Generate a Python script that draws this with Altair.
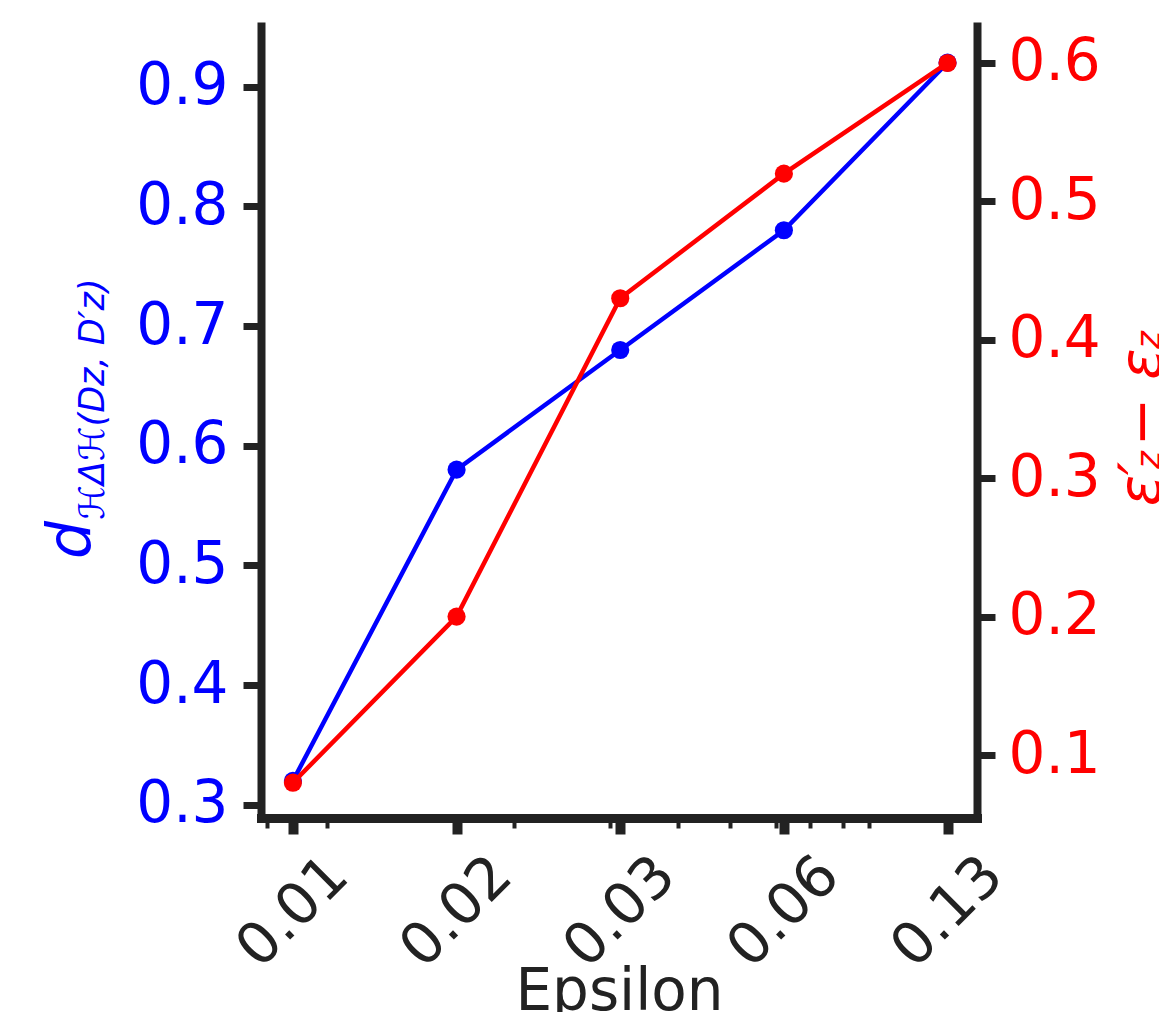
import altair as alt
import pandas as pd

# ---- data ----
epsilon_labels = ["0.01", "0.02", "0.03", "0.06", "0.13"]
positions = [0, 1, 2, 3, 4]
d_values = [0.32, 0.58, 0.68, 0.78, 0.92]          # left axis (blue)
eps_gap = [0.08, 0.20, 0.43, 0.52, 0.60]           # right axis (red)
minor_ticks = [-0.16, 0.21, 1.35, 1.94, 2.35, 2.67, 2.95, 3.16, 3.36, 3.52]
left_ticks = [0.3, 0.4, 0.5, 0.6, 0.7, 0.8, 0.9]
right_ticks = [0.1, 0.2, 0.3, 0.4, 0.5, 0.6]

df = pd.DataFrame({"pos": positions, "label": epsilon_labels,
                   "d": d_values, "gap": eps_gap})

FONT = "DejaVu Sans"
DARK = "#222222"
BLUE = "#0000ff"
RED = "#ff0000"
FS = 58

label_arr = "[" + ",".join(f"'{l}'" for l in epsilon_labels) + "]"
label_expr = f"datum.value == round(datum.value) ? {label_arr}[datum.value] : ''"

x_enc = alt.X(
    "pos:Q",
    scale=alt.Scale(domain=[-0.195, 4.18], nice=False, zero=False),
    axis=alt.Axis(
        values=positions + minor_ticks,
        labelExpr=label_expr,
        labelAngle=315,
        labelAlign="center",
        labelBaseline="middle",
        labelPadding=78,
        labelFontSize=FS,
        labelFont=FONT,
        labelColor=DARK,
        labelOverlap=False,
        labelFlush=False,
        labelBound=False,
        domainColor=DARK,
        domainWidth=9,
        domainCap="square",
        tickColor=DARK,
        tickSize={"condition": {"test": "datum.value == round(datum.value)", "value": 16}, "value": 10},
        tickWidth={"condition": {"test": "datum.value == round(datum.value)", "value": 10}, "value": 4},
        grid=False,
        title="Epsilon",
        titleFont=FONT,
        titleFontSize=FS,
        titleFontWeight="normal",
        titleColor=DARK,
        titleBaseline="alphabetic",
        titleY=191,
    ),
)

axis_common = dict(
    labelFontSize=FS,
    labelFont=FONT,
    domainColor=DARK,
    domainWidth=8,
    tickColor=DARK,
    tickWidth=7,
    tickSize=18,
    grid=False,
    format=".1f",
    labelOverlap=False,
    labelFlush=False,
    title=None,
)

base = alt.Chart(df)

y_left = alt.Y("d:Q", scale=alt.Scale(domain=[0.289, 0.954], nice=False, zero=False),
               axis=alt.Axis(orient="left", values=left_ticks, labelColor=BLUE,
                             labelPadding=15, **axis_common))
y_right = alt.Y("gap:Q", scale=alt.Scale(domain=[0.0545, 0.6296], nice=False, zero=False),
                axis=alt.Axis(orient="right", values=right_ticks, labelColor=RED,
                              labelPadding=13, **axis_common))

blue = alt.layer(
    base.mark_line(color=BLUE, strokeWidth=4.5).encode(x=x_enc, y=y_left),
    base.mark_circle(color=BLUE, size=330, opacity=1).encode(x=x_enc, y=y_left),
)
red = alt.layer(
    base.mark_line(color=RED, strokeWidth=4.5).encode(x=x_enc, y=y_right),
    base.mark_circle(color=RED, size=330, opacity=1).encode(x=x_enc, y=y_right),
)

# ---- axis titles built from text pieces (mathtext-like) ----
one = pd.DataFrame({"k": [0]})


def piece(text, size, x, y, color, italic=True):
    kw = dict(text=text, fontSize=size, font=FONT, angle=270, color=color,
              align="center", baseline="middle")
    if italic:
        kw["fontStyle"] = "italic"
    return alt.Chart(one).mark_text(**kw).encode(x=alt.value(x), y=alt.value(y))


titles = alt.layer(
    piece("d", 60, -189, 518, BLUE),
    piece("ℋΔℋ(Dz, D′z)", 35, -168, 377, BLUE),
    piece("ε′", 58, 882, 462, RED),
    piece("z", 34, 889, 438, RED),
    piece("−", 58, 883, 400, RED, italic=False),
    piece("ε", 58, 883, 342, RED),
    piece("z", 34, 889, 318, RED),
)

chart = alt.layer(blue, red, titles).resolve_scale(y="independent").properties(
    width=716,
    height=796,
    autosize=alt.AutoSizeParams(type="none"),
    padding={"left": 253, "top": 14, "right": 182, "bottom": 194},
).configure_view(stroke=None)

chart.save("out.html", embed_options={"renderer": "svg", "actions": False})
